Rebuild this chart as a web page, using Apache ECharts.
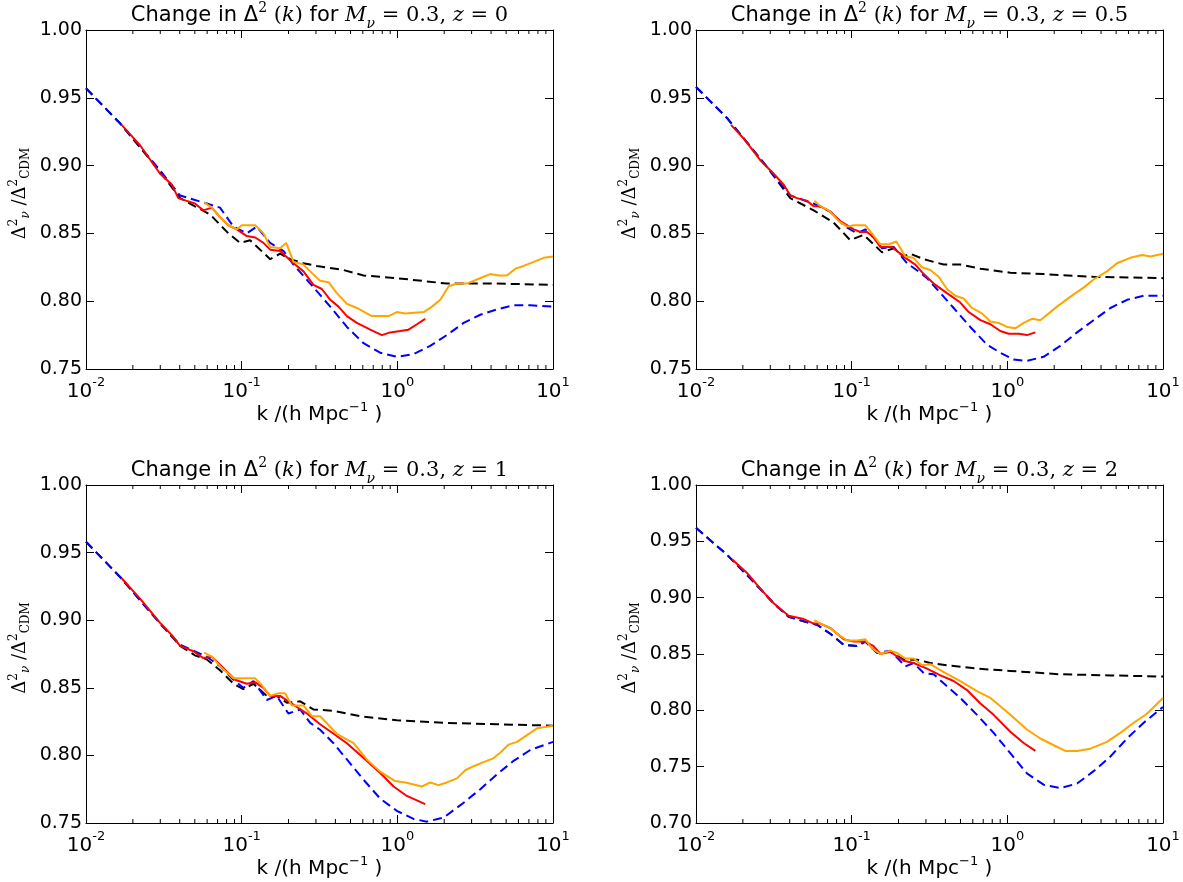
<!DOCTYPE html>
<html>
<head>
<meta charset="utf-8">
<script src="https://cdn.jsdelivr.net/npm/echarts@6/dist/echarts.min.js"></script>
<style>html,body{margin:0;padding:0;background:#fff;}#c{width:1183px;height:882px;}</style>
</head>
<body>
<div id="c"></div>
<script>
// ---- axis settings / tick labels ----
const xTickExps = ['-2', '-1', '0', '1'];
const zLabels = ['0', '0.5', '1', '2'];
const yMins = [0.75, 0.75, 0.75, 0.70];
const yMax = 1.0;

// ---- panel 0 : z=0  (x = log10 k) ----
const p0BlackLk = [-2, -1.78, -1.535, -1.396, -1.3, -1.203, -1.085, -1.01, -0.946, -0.817, -0.753, -0.689, -0.603, -0.517, -0.346, -0.217, -0.003, 0.318, 0.64, 1.0];
const p0BlackV  = [0.957, 0.931, 0.897, 0.876, 0.870, 0.864, 0.850, 0.843, 0.845, 0.831, 0.835, 0.831, 0.828, 0.826, 0.823, 0.819, 0.817, 0.813, 0.813, 0.812];
const p0BlueLk  = [-2, -1.78, -1.535, -1.396, -1.224, -1.139, -1.053, -0.967, -0.903, -0.817, -0.731, -0.667, -0.56, -0.431, -0.324, -0.217, -0.11, -0.003, 0.104, 0.211, 0.318, 0.426, 0.533, 0.64, 0.747, 0.854, 1.0];
const p0BlueV   = [0.957, 0.931, 0.898, 0.878, 0.872, 0.869, 0.855, 0.850, 0.855, 0.843, 0.837, 0.827, 0.813, 0.796, 0.781, 0.769, 0.762, 0.759, 0.761, 0.767, 0.775, 0.784, 0.790, 0.794, 0.797, 0.797, 0.796];
const p0RedLk   = [-1.771, -1.653, -1.524, -1.449, -1.407, -1.353, -1.3, -1.246, -1.192, -1.139, -1.085, -1.031, -0.967, -0.913, -0.86, -0.817, -0.753, -0.667, -0.603, -0.539, -0.485, -0.431, -0.378, -0.324, -0.26, -0.174, -0.099, -0.046, 0.018, 0.072, 0.126, 0.179];
const p0RedV    = [0.930, 0.915, 0.894, 0.886, 0.876, 0.874, 0.872, 0.867, 0.869, 0.862, 0.856, 0.853, 0.848, 0.847, 0.843, 0.838, 0.837, 0.828, 0.822, 0.812, 0.809, 0.801, 0.796, 0.789, 0.784, 0.779, 0.775, 0.777, 0.778, 0.779, 0.783, 0.787];
const p0OrangeLk = [-1.241, -1.192, -1.139, -1.085, -1.031, -0.999, -0.913, -0.86, -0.817, -0.753, -0.714, -0.667, -0.603, -0.56, -0.496, -0.442, -0.389, -0.324, -0.26, -0.164, -0.056, -0.003, 0.051, 0.169, 0.223, 0.276, 0.33, 0.383, 0.447, 0.554, 0.597, 0.651, 0.704, 0.758, 0.811, 0.876, 0.94, 1.0];
const p0OrangeV  = [0.873, 0.869, 0.862, 0.856, 0.853, 0.856, 0.856, 0.850, 0.840, 0.839, 0.843, 0.829, 0.827, 0.822, 0.815, 0.814, 0.806, 0.798, 0.795, 0.789, 0.789, 0.792, 0.791, 0.792, 0.796, 0.801, 0.811, 0.813, 0.813, 0.818, 0.820, 0.819, 0.819, 0.824, 0.826, 0.829, 0.832, 0.833];

// ---- panel 1 : z=0.5 ----
const p1BlackLk = [-2, -1.80, -1.544, -1.394, -1.244, -1.116, -1.009, -0.923, -0.859, -0.805, -0.730, -0.666, -0.623, -0.537, -0.409, -0.302, -0.173, 0.019, 0.233, 0.554, 1.0];
const p1BlackV  = [0.958, 0.935, 0.899, 0.876, 0.867, 0.858, 0.845, 0.849, 0.842, 0.836, 0.839, 0.833, 0.835, 0.831, 0.827, 0.827, 0.824, 0.821, 0.820, 0.818, 0.817];
const p1BlueLk  = [-2, -1.80, -1.544, -1.394, -1.244, -1.137, -1.041, -0.966, -0.912, -0.859, -0.805, -0.73, -0.644, -0.559, -0.516, -0.43, -0.345, -0.238, -0.131, -0.045, 0.041, 0.126, 0.233, 0.340, 0.448, 0.554, 0.662, 0.769, 0.876, 1.0];
const p1BlueV   = [0.958, 0.935, 0.899, 0.878, 0.872, 0.866, 0.855, 0.850, 0.853, 0.847, 0.839, 0.840, 0.828, 0.821, 0.817, 0.806, 0.795, 0.781, 0.768, 0.762, 0.757, 0.756, 0.759, 0.767, 0.777, 0.786, 0.795, 0.801, 0.804, 0.804];
const p1RedLk   = [-1.775, -1.694, -1.587, -1.501, -1.437, -1.394, -1.351, -1.287, -1.244, -1.201, -1.137, -1.073, -0.987, -0.944, -0.901, -0.859, -0.816, -0.741, -0.655, -0.591, -0.537, -0.473, -0.388, -0.302, -0.248, -0.173, -0.109, -0.045, 0.009, 0.073, 0.126, 0.180];
const p1RedV    = [0.930, 0.920, 0.904, 0.894, 0.886, 0.878, 0.876, 0.874, 0.870, 0.870, 0.866, 0.859, 0.853, 0.851, 0.851, 0.847, 0.840, 0.840, 0.832, 0.827, 0.820, 0.813, 0.806, 0.799, 0.792, 0.786, 0.783, 0.778, 0.776, 0.776, 0.775, 0.777];
const p1OrangeLk = [-1.24, -1.2, -1.147, -1.083, -1.03, -0.987, -0.912, -0.87, -0.816, -0.762, -0.713, -0.655, -0.602, -0.548, -0.495, -0.441, -0.388, -0.334, -0.281, -0.227, -0.163, -0.109, -0.056, -0.002, 0.051, 0.105, 0.158, 0.212, 0.319, 0.426, 0.49, 0.554, 0.64, 0.704, 0.79, 0.865, 0.919, 1.0];
const p1OrangeV  = [0.874, 0.870, 0.867, 0.859, 0.855, 0.856, 0.856, 0.850, 0.842, 0.842, 0.844, 0.833, 0.832, 0.825, 0.823, 0.818, 0.809, 0.804, 0.802, 0.795, 0.791, 0.785, 0.784, 0.781, 0.780, 0.784, 0.787, 0.786, 0.796, 0.805, 0.810, 0.816, 0.822, 0.828, 0.832, 0.834, 0.833, 0.835];

// ---- panel 2 : z=1 ----
const p2BlackLk = [-2, -1.781, -1.535, -1.396, -1.3, -1.224, -1.139, -1.053, -0.989, -0.924, -0.839, -0.775, -0.71, -0.624, -0.539, -0.41, -0.239, -0.003, 0.318, 0.64, 1.0];
const p2BlackV  = [0.958, 0.932, 0.899, 0.881, 0.874, 0.871, 0.863, 0.853, 0.849, 0.853, 0.844, 0.844, 0.839, 0.840, 0.834, 0.833, 0.829, 0.826, 0.824, 0.823, 0.822];
const p2BlueLk  = [-2, -1.781, -1.535, -1.396, -1.224, -1.139, -1.053, -0.989, -0.924, -0.839, -0.775, -0.7, -0.624, -0.56, -0.496, -0.41, -0.324, -0.217, -0.11, -0.003, 0.104, 0.19, 0.297, 0.426, 0.533, 0.64, 0.747, 0.854, 1.0];
const p2BlueV   = [0.958, 0.932, 0.899, 0.882, 0.873, 0.866, 0.856, 0.850, 0.855, 0.841, 0.844, 0.831, 0.834, 0.824, 0.819, 0.809, 0.797, 0.782, 0.768, 0.759, 0.753, 0.751, 0.754, 0.765, 0.775, 0.786, 0.796, 0.804, 0.810];
const p2RedLk   = [-1.771, -1.653, -1.524, -1.449, -1.396, -1.31, -1.246, -1.192, -1.139, -1.042, -0.967, -0.913, -0.86, -0.817, -0.753, -0.7, -0.581, -0.496, -0.41, -0.324, -0.217, -0.11, -0.024, 0.061, 0.179];
const p2RedV    = [0.931, 0.916, 0.898, 0.889, 0.881, 0.877, 0.872, 0.873, 0.867, 0.856, 0.853, 0.854, 0.850, 0.844, 0.844, 0.840, 0.831, 0.823, 0.816, 0.809, 0.798, 0.787, 0.777, 0.770, 0.764];
const p2OrangeLk = [-1.241, -1.192, -1.139, -1.053, -1.01, -0.913, -0.871, -0.817, -0.764, -0.721, -0.678, -0.603, -0.549, -0.496, -0.389, -0.281, -0.196, -0.11, -0.014, 0.051, 0.158, 0.211, 0.265, 0.318, 0.383, 0.436, 0.49, 0.554, 0.619, 0.661, 0.715, 0.769, 0.833, 0.897, 0.951, 1.0];
const p2OrangeV  = [0.876, 0.873, 0.866, 0.857, 0.857, 0.857, 0.852, 0.844, 0.846, 0.846, 0.837, 0.837, 0.829, 0.829, 0.816, 0.809, 0.797, 0.788, 0.781, 0.780, 0.777, 0.780, 0.778, 0.780, 0.783, 0.789, 0.792, 0.795, 0.798, 0.802, 0.808, 0.810, 0.815, 0.820, 0.821, 0.822];

// ---- panel 3 : z=2 ----
const p3BlackLk = [-2, -1.80, -1.63, -1.501, -1.405, -1.308, -1.223, -1.137, -1.051, -0.966, -0.912, -0.837, -0.752, -0.666, -0.58, -0.495, -0.388, -0.195, 0.019, 0.340, 0.662, 1.0];
const p3BlackV  = [0.962, 0.938, 0.914, 0.895, 0.883, 0.879, 0.876, 0.868, 0.858, 0.857, 0.861, 0.851, 0.852, 0.845, 0.845, 0.842, 0.840, 0.837, 0.835, 0.832, 0.831, 0.830];
const p3BlueLk  = [-2, -1.80, -1.63, -1.501, -1.405, -1.308, -1.223, -1.137, -1.051, -0.966, -0.912, -0.837, -0.752, -0.655, -0.602, -0.537, -0.473, -0.409, -0.302, -0.195, -0.088, 0.019, 0.126, 0.233, 0.340, 0.448, 0.554, 0.662, 0.769, 0.876, 1.0];
const p3BlueV   = [0.962, 0.938, 0.914, 0.895, 0.883, 0.879, 0.876, 0.868, 0.858, 0.857, 0.861, 0.851, 0.853, 0.839, 0.842, 0.833, 0.832, 0.824, 0.811, 0.796, 0.780, 0.762, 0.744, 0.734, 0.731, 0.735, 0.746, 0.759, 0.775, 0.789, 0.803];
const p3RedLk   = [-1.769, -1.672, -1.587, -1.501, -1.405, -1.308, -1.244, -1.201, -1.137, -1.051, -0.987, -0.912, -0.859, -0.816, -0.752, -0.666, -0.602, -0.516, -0.43, -0.345, -0.259, -0.173, -0.088, 0.019, 0.105, 0.18];
const p3RedV    = [0.934, 0.922, 0.908, 0.895, 0.884, 0.881, 0.877, 0.877, 0.873, 0.863, 0.861, 0.861, 0.857, 0.850, 0.852, 0.844, 0.842, 0.837, 0.831, 0.826, 0.818, 0.806, 0.796, 0.781, 0.771, 0.764];
const p3OrangeLk = [-1.24, -1.201, -1.148, -1.083, -1.03, -0.966, -0.912, -0.87, -0.816, -0.752, -0.709, -0.655, -0.602, -0.548, -0.495, -0.409, -0.302, -0.195, -0.109, -0.066, 0.019, 0.126, 0.212, 0.298, 0.373, 0.448, 0.533, 0.64, 0.726, 0.812, 0.897, 1.0];
const p3OrangeV  = [0.880, 0.877, 0.874, 0.867, 0.862, 0.862, 0.863, 0.855, 0.850, 0.853, 0.851, 0.846, 0.846, 0.840, 0.841, 0.834, 0.826, 0.817, 0.811, 0.806, 0.796, 0.783, 0.775, 0.769, 0.764, 0.764, 0.766, 0.772, 0.780, 0.789, 0.797, 0.811];

const panels = [
  [[p0BlackLk, p0BlackV], [p0BlueLk, p0BlueV], [p0RedLk, p0RedV], [p0OrangeLk, p0OrangeV]],
  [[p1BlackLk, p1BlackV], [p1BlueLk, p1BlueV], [p1RedLk, p1RedV], [p1OrangeLk, p1OrangeV]],
  [[p2BlackLk, p2BlackV], [p2BlueLk, p2BlueV], [p2RedLk, p2RedV], [p2OrangeLk, p2OrangeV]],
  [[p3BlackLk, p3BlackV], [p3BlueLk, p3BlueV], [p3RedLk, p3RedV], [p3OrangeLk, p3OrangeV]]
];
const lineColors = ['#000000', '#0000ff', '#ff0000', '#ffa500'];
const lineDashed = [true, true, false, false];

// ---- layout ----
const gridBoxes = [
  {left: 86, top: 30, width: 467, height: 339},
  {left: 696, top: 30, width: 467, height: 339},
  {left: 86, top: 485, width: 467, height: 338},
  {left: 696, top: 485, width: 467, height: 338}
];
const SANS = 'DejaVu Sans';
const SERIF = 'DejaVu Serif';

// minor tick positions on log axis (2..9 x decade)
const minorLk = [];
for (let n = -2; n < 1; n++) for (let m = 2; m <= 9; m++) minorLk.push(n + Math.log10(m));

const grids = [], xAxes = [], yAxes = [], series = [], graphics = [];
const axisLineStyle = {color: '#000', width: 1};

gridBoxes.forEach((g, i) => {
  grids.push(Object.assign({containLabel: false}, g));
  xAxes.push({
    type: 'value', gridIndex: i, min: -2, max: 1, interval: 1, position: 'bottom',
    axisLine: {show: true, onZero: false, lineStyle: axisLineStyle},
    axisTick: {show: true, inside: true, length: 8, lineStyle: axisLineStyle},
    splitLine: {show: false},
    axisLabel: {
      show: true, margin: 7, color: '#000',
      formatter: v => '{n|10}{s|' + xTickExps[Math.round(v) + 2] + '}',
      rich: {
        n: {fontFamily: SANS, fontSize: 20, color: '#000', verticalAlign: 'bottom', lineHeight: 26},
        s: {fontFamily: SANS, fontSize: 13, color: '#000', verticalAlign: 'top', lineHeight: 14}
      }
    }
  });
  xAxes.push({
    type: 'value', gridIndex: i, min: -2, max: 1, interval: 1, position: 'top',
    axisLine: {show: true, onZero: false, lineStyle: axisLineStyle},
    axisTick: {show: true, inside: true, length: 8, lineStyle: axisLineStyle},
    splitLine: {show: false}, axisLabel: {show: false}
  });
  yAxes.push({
    type: 'value', gridIndex: i, min: yMins[i], max: yMax, interval: 0.05, position: 'left',
    axisLine: {show: true, onZero: false, lineStyle: axisLineStyle},
    axisTick: {show: true, inside: true, length: 8, lineStyle: axisLineStyle},
    splitLine: {show: false},
    axisLabel: {show: true, margin: 4, color: '#000', fontFamily: SANS, fontSize: 19,
      formatter: v => v.toFixed(2)}
  });
  yAxes.push({
    type: 'value', gridIndex: i, min: yMins[i], max: yMax, interval: 0.05, position: 'right',
    axisLine: {show: true, onZero: false, lineStyle: axisLineStyle},
    axisTick: {show: true, inside: true, length: 8, lineStyle: axisLineStyle},
    splitLine: {show: false}, axisLabel: {show: false}
  });

  // minor ticks (top and bottom) drawn through the x scale
  const yMin = yMins[i];
  series.push({
    type: 'custom', xAxisIndex: 2 * i, yAxisIndex: 2 * i, silent: true, z: 1,
    data: minorLk.map(x => [x, yMin]),
    renderItem: (params, api) => {
      const x = api.value(0);
      const b = api.coord([x, yMin]);
      const t = api.coord([x, yMax]);
      return {type: 'group', children: [
        {type: 'line', shape: {x1: b[0], y1: b[1], x2: b[0], y2: b[1] - 4}, style: {stroke: '#000', lineWidth: 1}},
        {type: 'line', shape: {x1: t[0], y1: t[1], x2: t[0], y2: t[1] + 4}, style: {stroke: '#000', lineWidth: 1}}
      ]};
    }
  });

  panels[i].forEach((pair, j) => {
    const [lk, v] = pair;
    series.push({
      type: 'line', xAxisIndex: 2 * i, yAxisIndex: 2 * i, showSymbol: false, symbol: 'none',
      smooth: false, animation: false, z: 2 + j,
      lineStyle: {color: lineColors[j], width: 2, type: lineDashed[j] ? [9, 5] : 'solid'},
      data: lk.map((x, k) => [x, v[k]])
    });
  });

  // titles and axis names
  const cx = g.left + g.width / 2;
  graphics.push({
    type: 'text', x: cx, y: g.top - 14, z: 10,
    style: {
      text: '{t|Change in Δ}{sup|2}{m| (}{mi|k}{m|)}{t| for }{mi|M}{sub|ν}{m| = 0.3, }{mi|z}{m| = ' + zLabels[i] + '}',
      align: 'center', verticalAlign: 'middle',
      rich: {
        t: {fontFamily: SANS, fontSize: 21, fill: '#000', lineHeight: 30},
        m: {fontFamily: SERIF, fontSize: 21, fill: '#000', lineHeight: 30},
        mi: {fontFamily: SERIF, fontStyle: 'italic', fontSize: 21, fill: '#000', lineHeight: 30},
        sup: {fontFamily: SERIF, fontSize: 14, fill: '#000', verticalAlign: 'top', lineHeight: 17},
        sub: {fontFamily: SERIF, fontStyle: 'italic', fontSize: 14, fill: '#000', verticalAlign: 'bottom', lineHeight: 17}
      }
    }
  });
  graphics.push({
    type: 'text', x: cx, y: g.top + g.height + 46, z: 10,
    style: {
      text: '{t|k /(h Mpc}{sup|−1}{t| )}',
      align: 'center', verticalAlign: 'middle',
      rich: {
        t: {fontFamily: SANS, fontSize: 20, fill: '#000', lineHeight: 28},
        sup: {fontFamily: SANS, fontSize: 13, fill: '#000', verticalAlign: 'top', lineHeight: 15}
      }
    }
  });
  graphics.push({
    type: 'text', x: g.left - 66, y: g.top + g.height / 2 - 6, rotation: Math.PI / 2, z: 10,
    style: {
      text: '{m|Δ}{sup|2}{sub|ν}{m| /Δ}{sup|2}{subr|CDM}',
      align: 'center', verticalAlign: 'middle',
      rich: {
        m: {fontFamily: SERIF, fontSize: 18, fill: '#000', lineHeight: 24},
        sup: {fontFamily: SERIF, fontSize: 12, fill: '#000', verticalAlign: 'top', lineHeight: 12},
        sub: {fontFamily: SERIF, fontStyle: 'italic', fontSize: 12, fill: '#000', verticalAlign: 'bottom', lineHeight: 12},
        subr: {fontFamily: SERIF, fontSize: 12, fill: '#000', verticalAlign: 'bottom', lineHeight: 12}
      }
    }
  });
});

const chart = echarts.init(document.getElementById('c'), null, {renderer: 'canvas'});
chart.setOption({
  animation: false,
  backgroundColor: '#fff',
  grid: grids,
  xAxis: xAxes,
  yAxis: yAxes,
  series: series,
  graphic: graphics
});
</script>
</body>
</html>
